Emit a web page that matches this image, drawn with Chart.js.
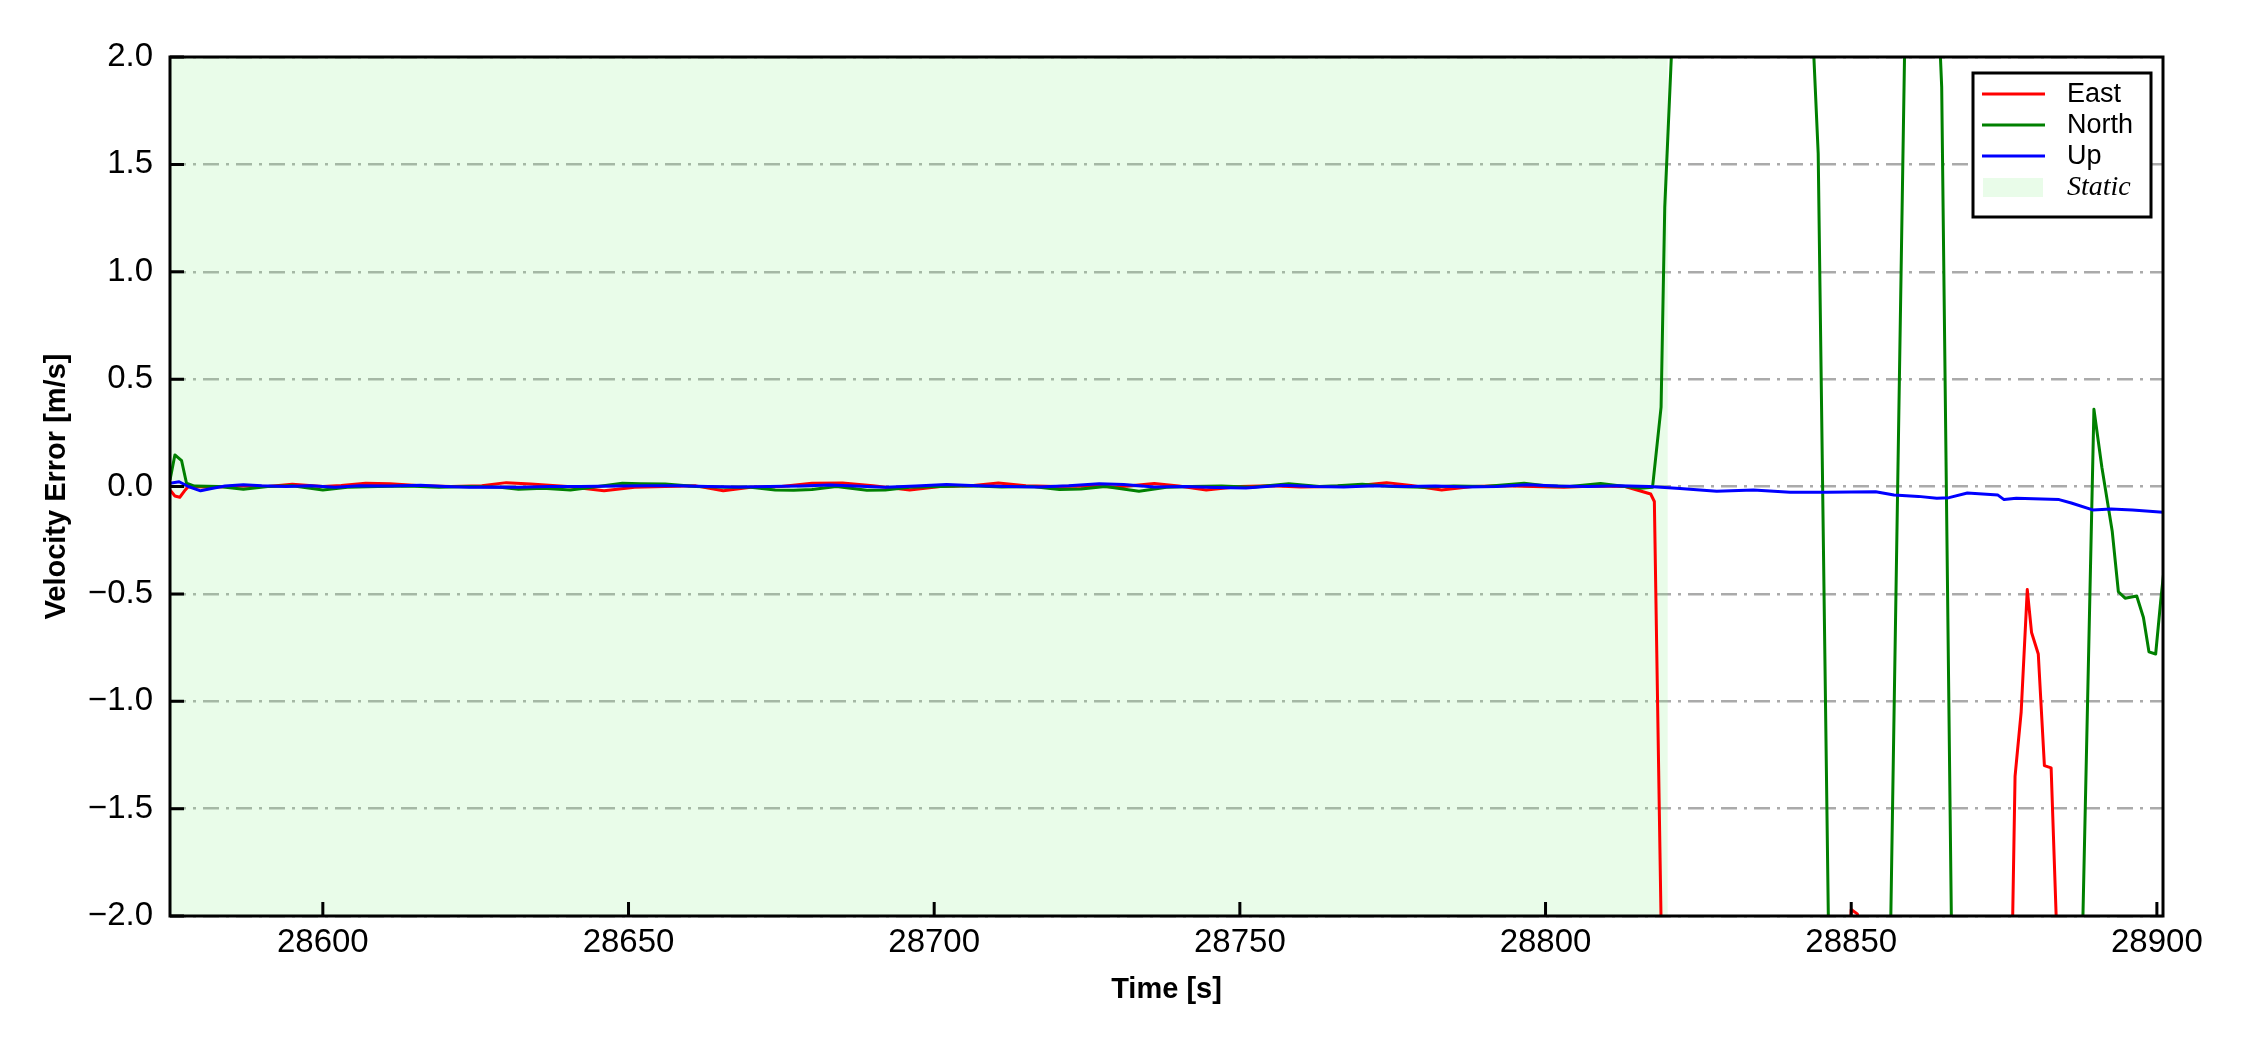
<!DOCTYPE html>
<html>
<head>
<meta charset="utf-8">
<script src="https://cdn.jsdelivr.net/npm/chart.js@4.4.0/dist/chart.umd.min.js"></script>
<style>
  html, body { margin: 0; padding: 0; background: #fff; }
  #wrap { width: 2250px; height: 1050px; }
</style>
</head>
<body>
<div id="wrap"><canvas id="chart" width="2250" height="1050"></canvas></div>
<script>
// Velocity error plot - East / North / Up with static period shaded

// Axis ticks
const xTicks = [28600, 28650, 28700, 28750, 28800, 28850, 28900];
const yTicks = [-2.0, -1.5, -1.0, -0.5, 0.0, 0.5, 1.0, 1.5, 2.0];
const xRange = [28575, 28901];
const yRange = [-2, 2];

// Static period (shaded)
const staticSpan = [28575, 28820];

// East error
const eastT = [28575, 28575.8, 28576.6, 28577.5, 28578, 28582, 28587, 28591, 28595, 28600,
  28603, 28607, 28611, 28616, 28621, 28626, 28630, 28634, 28640, 28646,
  28651, 28656, 28661, 28665.5, 28670, 28675, 28680, 28685, 28690, 28696,
  28701, 28706, 28710.5, 28715, 28720, 28725, 28730, 28736, 28740, 28744.5,
  28750, 28755, 28760, 28765, 28769, 28774, 28778, 28783, 28788, 28793,
  28798, 28803, 28808, 28813, 28817.2, 28817.8, 28819, 28820, 28849.5, 28850,
  28851, 28852.3, 28876, 28876.8, 28877.8, 28878.8, 28879.5, 28880.6, 28881.6, 28882.7,
  28884, 28901];
const eastV = [-0.016, -0.044, -0.05, -0.016, 0.0, -0.004, 0.003, 0.0, 0.01, 0.0,
  0.005, 0.015, 0.013, 0.003, 0.0, 0.004, 0.018, 0.012, 0.0, -0.02,
  -0.003, 0.0, 0.003, -0.02, -0.004, 0.0, 0.015, 0.016, 0.003, -0.016,
  0.0, 0.004, 0.016, 0.003, 0.0, 0.002, -0.002, 0.014, 0.002, -0.016,
  0.0, 0.003, -0.002, 0.0, 0.004, 0.018, 0.005, -0.016, 0.0, 0.003,
  0.0, -0.004, 0.002, 0.0, -0.035, -0.07, -2.2, -3.0, -2.3, -1.97,
  -1.99, -2.2, -2.7, -1.35, -1.05, -0.48, -0.68, -0.78, -1.3, -1.31,
  -2.4, -3.0];

// North error
const northT = [28575, 28575.8, 28576.9, 28577.7, 28579, 28583, 28587, 28591, 28595, 28600,
  28604, 28609, 28614, 28619, 28624, 28629, 28632, 28636, 28640.5, 28645,
  28649, 28652, 28656, 28661, 28666, 28670, 28674, 28677, 28680, 28684,
  28689, 28692, 28696, 28701, 28706, 28711, 28716, 28720.5, 28724, 28728,
  28733.5, 28738, 28742, 28747, 28752, 28758, 28763, 28766, 28770, 28775,
  28780, 28785, 28790, 28796.5, 28800, 28804, 28809, 28812, 28815.5, 28817.5,
  28818.9, 28819.5, 28820.5, 28821.5, 28843.5, 28844.6, 28846.4, 28856.2, 28859, 28864,
  28864.8, 28866.5, 28887.6, 28889.7, 28891, 28892.7, 28893.7, 28894.8, 28896.7, 28897.8,
  28898.7, 28899.8, 28900.7, 28901.5];
const northV = [0.03, 0.147, 0.12, 0.015, 0.002, 0.0, -0.013, 0.0, 0.003, -0.016,
  -0.004, 0.0, 0.002, -0.003, 0.0, -0.004, -0.013, -0.008, -0.016, 0.0,
  0.015, 0.013, 0.012, 0.0, -0.004, -0.003, -0.016, -0.018, -0.014, 0.0,
  -0.017, -0.016, -0.004, 0.0, 0.003, -0.002, 0.0, -0.014, -0.012, 0.0,
  -0.022, -0.004, 0.0, 0.002, -0.004, 0.013, 0.0, 0.003, 0.01, 0.0,
  -0.003, 0.002, 0.0, 0.015, 0.003, 0.0, 0.014, 0.003, -0.008, -0.004,
  0.37, 1.3, 1.95, 2.6, 2.25, 1.55, -2.3, -2.5, 2.5, 2.4,
  1.86, -2.3, -2.4, 0.36, 0.09, -0.21, -0.49, -0.52, -0.51, -0.61,
  -0.77, -0.78, -0.51, -0.3];

// Up error
const upT = [28575, 28576.5, 28578, 28580, 28582, 28584, 28587, 28590, 28594, 28598,
  28602, 28606, 28611, 28616, 28620, 28624, 28628, 28632, 28637, 28642,
  28648, 28653, 28658, 28663, 28668, 28673, 28678, 28683, 28688, 28692,
  28697, 28702, 28707, 28712, 28717, 28722, 28727, 28731, 28736, 28741,
  28746, 28751, 28757, 28762, 28767, 28772, 28777, 28782, 28787, 28792,
  28797, 28802, 28807, 28812, 28817, 28822, 28828, 28834, 28840, 28846,
  28854, 28857, 28861, 28864, 28866, 28869, 28874, 28875, 28877, 28884,
  28886, 28889.5, 28892.5, 28896, 28901];
const upV = [0.015, 0.022, 0.0, -0.02, -0.008, 0.002, 0.008, 0.003, 0.0, 0.003,
  -0.003, 0.004, 0.002, 0.006, 0.0, -0.004, -0.002, -0.004, 0.0, 0.0,
  0.002, 0.004, 0.003, 0.0, -0.002, 0.0, 0.002, 0.007, 0.001, -0.004,
  0.002, 0.009, 0.003, 0.0, -0.002, 0.003, 0.013, 0.009, -0.002, 0.0,
  -0.005, -0.007, 0.006, 0.0, -0.002, 0.003, 0.0, 0.002, -0.002, 0.0,
  0.008, 0.002, 0.0, 0.003, 0.0, -0.009, -0.022, -0.016, -0.027, -0.027,
  -0.024, -0.04, -0.046, -0.055, -0.052, -0.03, -0.04, -0.061, -0.055, -0.061,
  -0.077, -0.109, -0.105, -0.11, -0.12];

const SANS = '"Liberation Sans", Arial, sans-serif';
const SERIF = '"Liberation Serif", "Times New Roman", serif';

function toPoints(ts, vs) {
    return ts.map((t, i) => ({ x: t, y: vs[i] }));
}

function fmtNum(v) {
    return v.toFixed(1).replace('-', '\u2212');
}

// Box frame and inward tick marks
const frameTicks = {
    id: 'frameTicks',
    afterDatasetsDraw(chart) {
        const { ctx, chartArea: a, scales: { x, y } } = chart;
        ctx.save();
        ctx.strokeStyle = '#000';
        ctx.lineWidth = 3;
        ctx.beginPath();
        yTicks.forEach(v => {
            const py = y.getPixelForValue(v);
            ctx.moveTo(a.left, py);
            ctx.lineTo(a.left + 14, py);
        });
        xTicks.forEach(v => {
            const px = x.getPixelForValue(v);
            ctx.moveTo(px, a.bottom);
            ctx.lineTo(px, a.bottom - 14);
        });
        ctx.stroke();
        ctx.strokeRect(a.left, a.top, a.right - a.left, a.bottom - a.top);
        ctx.restore();
    }
};

// Legend box in upper right corner
const legendBox = {
    id: 'legendBox',
    afterDraw(chart) {
        const { ctx, chartArea: a } = chart;
        const w = 178, h = 144;
        const left = a.right - 12 - w;
        const top = a.top + 16;
        ctx.save();
        ctx.fillStyle = '#fff';
        ctx.fillRect(left, top, w, h);
        ctx.lineWidth = 3;
        ctx.strokeStyle = '#000';
        ctx.strokeRect(left, top, w, h);
        chart.data.datasets.forEach((ds, i) => {
            const cy = top + 21 + i * 31;
            if (ds.fill) {
                ctx.fillStyle = ds.backgroundColor;
                ctx.fillRect(left + 10, cy - 9, 60, 19);
                ctx.font = 'italic 28px ' + SERIF;
            } else {
                ctx.strokeStyle = ds.borderColor;
                ctx.lineWidth = 3;
                ctx.beginPath();
                ctx.moveTo(left + 9, cy);
                ctx.lineTo(left + 72, cy);
                ctx.stroke();
                ctx.font = '27px ' + SANS;
            }
            ctx.fillStyle = '#000';
            ctx.textBaseline = 'middle';
            ctx.textAlign = 'left';
            ctx.fillText(ds.label, left + 94, cy + 1);
        });
        ctx.restore();
    }
};

Chart.defaults.font.family = SANS;
Chart.defaults.color = '#000';

const lineStyle = { borderWidth: 3, pointRadius: 0, tension: 0, fill: false, borderJoinStyle: 'round' };

new Chart(document.getElementById('chart'), {
    type: 'line',
    data: {
        datasets: [
            { label: 'East', data: toPoints(eastT, eastV), borderColor: '#ff0000', order: 3, ...lineStyle },
            { label: 'North', data: toPoints(northT, northV), borderColor: '#008000', order: 2, ...lineStyle },
            { label: 'Up', data: toPoints(upT, upV), borderColor: '#0000ff', order: 1, ...lineStyle },
            {
                label: 'Static',
                data: [{ x: staticSpan[0], y: yRange[1] }, { x: staticSpan[1], y: yRange[1] }],
                borderColor: 'rgba(0,0,0,0)',
                borderWidth: 1,
                backgroundColor: 'rgba(144,238,144,0.2)',
                fill: 'start',
                pointRadius: 0,
                order: 4
            }
        ]
    },
    options: {
        responsive: false,
        animation: false,
        devicePixelRatio: 1,
        layout: { padding: { left: 0, top: 57, right: 87, bottom: 0 } },
        plugins: { legend: { display: false }, tooltip: { enabled: false } },
        scales: {
            x: {
                type: 'linear',
                min: xRange[0],
                max: xRange[1],
                afterBuildTicks: s => { s.ticks = xTicks.map(v => ({ value: v })); },
                afterFit: s => { s.height = 134; },
                grid: { display: false, drawTicks: false },
                border: { display: false },
                ticks: { font: { size: 33 }, padding: 7, maxRotation: 0, callback: v => String(v) },
                title: { display: true, text: 'Time [s]', font: { size: 29, weight: 'bold' }, padding: { top: 0, bottom: 43 } }
            },
            y: {
                min: yRange[0],
                max: yRange[1],
                afterBuildTicks: s => { s.ticks = yTicks.map(v => ({ value: v })); },
                afterFit: s => { s.width = 170; },
                grid: { color: '#aaaaaa', lineWidth: 2.5, drawTicks: false },
                border: { display: false, dash: [16, 7, 3, 7] },
                ticks: { font: { size: 33 }, padding: 17, callback: v => fmtNum(v) },
                title: { display: true, text: 'Velocity Error [m/s]', font: { size: 29, weight: 'bold' }, padding: { top: 40, bottom: 0 } }
            }
        }
    },
    plugins: [frameTicks, legendBox]
});
</script>
</body>
</html>
